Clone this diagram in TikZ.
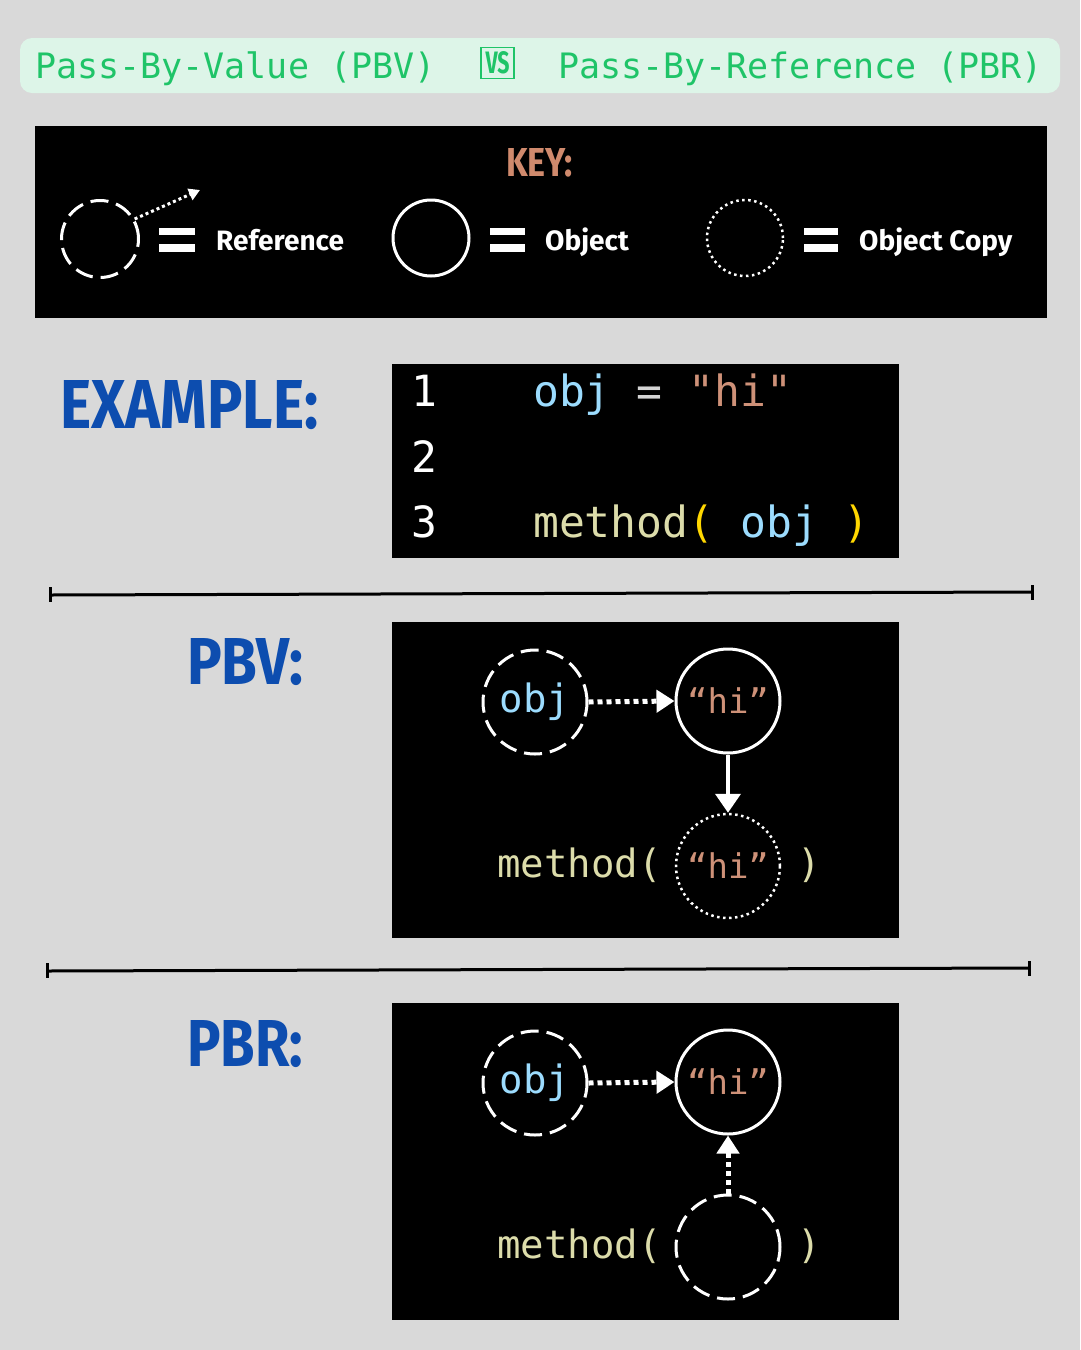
\documentclass[tikz,border=0pt]{standalone}
\usepackage{fontspec}
\usepackage{graphicx}
\usetikzlibrary{arrows.meta}
\setmainfont{Fira Sans}
\newfontfamily\monofont{DejaVu Sans Mono}
\newfontfamily\headfont{Fira Sans}
\definecolor{bg}{HTML}{D9D9D9}
\definecolor{mint}{HTML}{DDF5E8}
\definecolor{titlegreen}{HTML}{1FC468}
\definecolor{headblue}{HTML}{0D4DAF}
\definecolor{keyorange}{HTML}{D08A6D}
\definecolor{codeblue}{HTML}{9CDCFE}
\definecolor{codestr}{HTML}{CE9178}
\definecolor{codefn}{HTML}{DCDCAA}
\definecolor{codeparen}{HTML}{FFD700}
\definecolor{codeeq}{HTML}{D4D4D4}
\tikzset{
  panel/.style={fill=black,draw=none},
  refcirc/.style={circle,draw=white,line width=3pt,dash pattern=on 18pt off 8pt,minimum size=#1,inner sep=0pt},
  objcirc/.style={circle,draw=white,line width=3pt,minimum size=#1,inner sep=0pt},
  copycirc/.style={circle,draw=white,line width=2.5pt,dash pattern=on 2.5pt off 3.5pt,minimum size=#1,inner sep=0pt},
  dotarrow/.style={draw=white,line width=5pt,dash pattern=on 5pt off 4pt,-{Triangle[length=18pt,width=22pt]}},
  keyarrow/.style={draw=white,line width=3pt,dash pattern=on 3pt off 3pt,-{Triangle[length=11pt,width=12pt]}},
  solidarrow/.style={draw=white,line width=4pt,-{Triangle[length=19pt,width=25pt]}},
  code/.style={font=\monofont\fontsize{43}{43}\selectfont,anchor=base west,inner sep=0pt},
  small code/.style={font=\monofont\fontsize{39}{39}\selectfont,inner sep=0pt},
  hi code/.style={font=\monofont\fontsize{34}{34}\selectfont,inner sep=0pt},
  keylabel/.style={font=\fontsize{28}{28}\selectfont\bfseries,text=white,anchor=base west,inner sep=0pt},
  title/.style={font=\monofont\fontsize{35}{35}\selectfont,text=titlegreen,anchor=base west,inner sep=0pt},
  heading/.style={anchor=north west,inner sep=0pt},
  sep/.style={line width=3pt,draw=black},
  bar/.style={fill=white,draw=none}
}
\begin{document}
\begin{tikzpicture}[x=1pt,y=-1pt]
\useasboundingbox (0,0) rectangle (1080,1350);
\fill[bg] (0,0) rectangle (1080,1350);

% title
\fill[mint,rounded corners=12pt] (20,38) rectangle (1060,93);
\node[title] (t1) at (35,78) {Pass-By-Value (PBV)};
\node[draw=titlegreen,line width=1.5pt,text=titlegreen,inner sep=0pt,minimum width=33pt,minimum height=31pt,font=\headfont\bfseries] (vs) at (497.5,63) {\resizebox{24pt}{22pt}{VS}};
\node[title] (t2) at (558,78) {Pass-By-Reference (PBR)};

% key panel
\fill[panel] (35,126) rectangle (1047,318);
\node[heading,text=keyorange] (key) at (506,148) {\resizebox{66pt}{28pt}{\headfont\bfseries KEY:}};
\node[refcirc=77pt] (kref) at (100,239) {};
\coordinate (kreftip) at (200,190);
\draw[keyarrow] (kref.30) -- (kreftip);
\fill[bar] (159,228) rectangle (195,235);
\fill[bar] (159,244) rectangle (195,252);
\node[keylabel] (lref) at (216,250) {Reference};
\node[objcirc=76pt] (kobj) at (431,238) {};
\fill[bar] (490,228) rectangle (525,235);
\fill[bar] (490,244) rectangle (525,252);
\node[keylabel] (lobj) at (545,250) {Object};
\node[copycirc=76pt] (kcopy) at (745,238) {};
\fill[bar] (804,228) rectangle (838,235);
\fill[bar] (804,244) rectangle (838,252);
\node[keylabel] (lcopy) at (859,250) {Object Copy};

% example
\node[heading,text=headblue] (ex) at (60,380) {\resizebox{258pt}{48pt}{\headfont\bfseries EXAMPLE:}};
\fill[panel] (392,364) rectangle (899,558);
\node[code,text=white] (n1) at (411,406) {1};
\node[code,text=white] (n2) at (411,472) {2};
\node[code,text=white] (n3) at (411,537) {3};
\node[code] (l1) at (533,406) {\textcolor{codeblue}{obj} \textcolor{codeeq}{=} \textcolor{codestr}{"hi"}};
\node[code] (l3) at (533,537) {\textcolor{codefn}{method}\textcolor{codeparen}{(} \textcolor{codeblue}{obj} \textcolor{codeparen}{)}};

% separator 1
\draw[sep] (50,595) -- (1032,592);
\draw[sep] (50,587) -- (50,602);
\draw[sep] (1032,585) -- (1032,600);

% PBV
\node[heading,text=headblue] (pbv) at (187,638) {\resizebox{116pt}{46pt}{\headfont\bfseries PBV:}};
\fill[panel] (392,622) rectangle (899,938);
\node[refcirc=104pt,small code,text=codeblue] (o1) at (535,702) {obj};
\node[objcirc=104pt,hi code,text=codestr] (h1) at (728,701) {“hi”};
\node[copycirc=104pt,hi code,text=codestr] (c1) at (728,866) {“hi”};
\draw[dotarrow] (o1.east) -- (h1.west);
\draw[solidarrow] (h1.south) -- (c1.north);
\node[small code,anchor=base west,text=codefn] (m1) at (497,877) {method(};
\node[small code,anchor=base west,text=codefn] (p1) at (797,877) {)};

% separator 2
\draw[sep] (47,971) -- (1029,968);
\draw[sep] (47,963) -- (47,978);
\draw[sep] (1029,961) -- (1029,976);

% PBR
\node[heading,text=headblue] (pbr) at (187,1020) {\resizebox{116pt}{46pt}{\headfont\bfseries PBR:}};
\fill[panel] (392,1003) rectangle (899,1320);
\node[refcirc=104pt,small code,text=codeblue] (o2) at (535,1083) {obj};
\node[objcirc=104pt,hi code,text=codestr] (h2) at (728,1082) {“hi”};
\node[refcirc=104pt] (c2) at (728,1247) {};
\draw[dotarrow] (o2.east) -- (h2.west);
\draw[dotarrow] (c2.north) -- (h2.south);
\node[small code,anchor=base west,text=codefn] (m2) at (497,1258) {method(};
\node[small code,anchor=base west,text=codefn] (p2) at (797,1258) {)};
\end{tikzpicture}
\end{document}
